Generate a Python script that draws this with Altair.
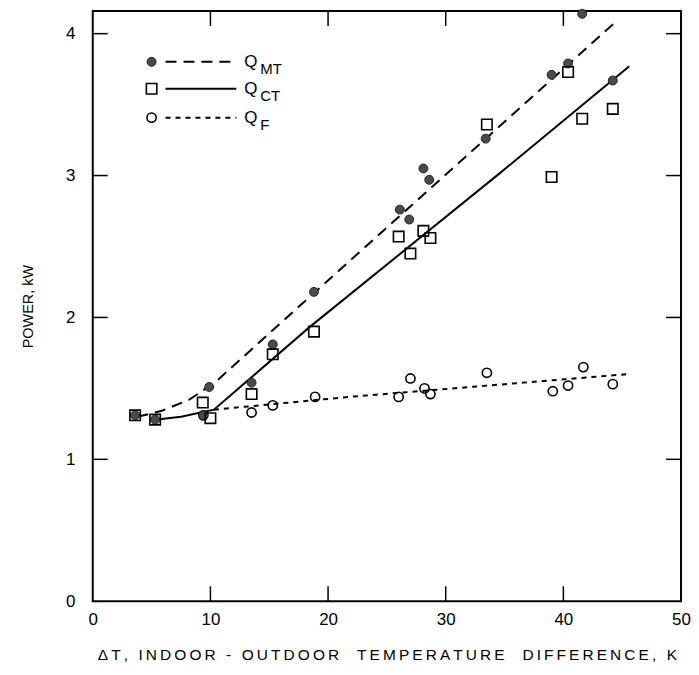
import altair as alt
import pandas as pd

# ---- data ----
mt_x = [3.6, 5.3, 9.4, 9.9, 13.5, 15.3, 18.8, 26.1, 26.9, 28.1, 28.6, 33.4, 39.0, 40.4, 41.6, 44.2]
mt_y = [1.31, 1.28, 1.31, 1.51, 1.54, 1.81, 2.18, 2.76, 2.69, 3.05, 2.97, 3.26, 3.71, 3.79, 4.14, 3.67]

ct_x = [3.6, 5.3, 9.35, 10.0, 13.5, 15.3, 18.8, 26.0, 27.0, 28.1, 28.7, 33.5, 39.0, 40.4, 41.6, 44.2]
ct_y = [1.31, 1.28, 1.40, 1.29, 1.46, 1.74, 1.90, 2.57, 2.45, 2.61, 2.56, 3.36, 2.99, 3.73, 3.40, 3.47]

f_x = [9.4, 13.5, 15.3, 18.9, 26.0, 27.0, 28.2, 28.7, 33.5, 39.1, 40.4, 41.7, 44.2]
f_y = [1.31, 1.33, 1.38, 1.44, 1.44, 1.57, 1.50, 1.46, 1.61, 1.48, 1.52, 1.65, 1.53]

# fitted curves
mt_line_x = [3.8, 5.8, 8.2, 10.5, 17.5, 33.8, 44.4]
mt_line_y = [1.30, 1.34, 1.42, 1.55, 2.075, 3.29, 4.08]
ct_line_x = [5.5, 7.5, 10.3, 18.4, 34.5, 45.6]
ct_line_y = [1.28, 1.30, 1.35, 1.93, 3.01, 3.77]
f_line_x = [10.3, 21.8, 45.4]
f_line_y = [1.35, 1.44, 1.60]

x_ticks = [0, 10, 20, 30, 40, 50]
y_ticks = [0, 1, 2, 3, 4]
inner_x_ticks = [10, 20, 30, 40]
inner_y_ticks = [1, 2, 3, 4]

x_title_raw = "\u0394T, INDOOR - OUTDOOR  TEMPERATURE  DIFFERENCE, K"
y_title = "POWER,  kW"

# letter-spaced x title (thin spaces between the characters)
x_title = "\u2009".join(list(x_title_raw))

FONT = "Liberation Sans"
W, H = 590, 592
TICK = 15

xs = alt.Scale(domain=[0, 50], nice=False, zero=False)
ys = alt.Scale(domain=[0, 4.16], nice=False, zero=False)

x_axis = alt.Axis(values=x_ticks, domain=False, ticks=False, grid=False,
                  labelFont=FONT, labelFontSize=17, labelColor="black",
                  labelPadding=10, labelFlush=False,
                  title=x_title, titleFont=FONT, titleFontSize=15.5,
                  titleFontWeight="normal", titleColor="black", titlePadding=20)
y_axis = alt.Axis(values=y_ticks, domain=False, ticks=False, grid=False,
                  labelFont=FONT, labelFontSize=17, labelColor="black",
                  labelPadding=18, labelFlush=False,
                  title=y_title, titleFont=FONT, titleFontSize=14.5,
                  titleFontWeight="normal", titleColor="black", titlePadding=30)

mt = pd.DataFrame({"x": mt_x, "y": mt_y})
ct = pd.DataFrame({"x": ct_x, "y": ct_y})
qf = pd.DataFrame({"x": f_x, "y": f_y})
mtl = pd.DataFrame({"x": mt_line_x, "y": mt_line_y})
ctl = pd.DataFrame({"x": ct_line_x, "y": ct_line_y})
fl = pd.DataFrame({"x": f_line_x, "y": f_line_y})

X = alt.X("x:Q", scale=xs, axis=x_axis)
Y = alt.Y("y:Q", scale=ys, axis=y_axis)

DASH_MT = [11, 7]
DASH_F = [5, 5]

line_mt = alt.Chart(mtl).mark_line(color="black", strokeWidth=2, strokeDash=DASH_MT).encode(x=X, y=Y)
line_ct = alt.Chart(ctl).mark_line(color="black", strokeWidth=2).encode(x=X, y=Y)
line_f = alt.Chart(fl).mark_line(color="black", strokeWidth=2, strokeDash=DASH_F).encode(x=X, y=Y)

pts_f = alt.Chart(qf).mark_point(shape="circle", filled=False, size=85, color="black",
                                 strokeWidth=1.6, opacity=1).encode(x=X, y=Y)
pts_mt = alt.Chart(mt).mark_point(shape="circle", filled=True, size=80, fill="#4a4a4a",
                                  stroke="#222222", strokeWidth=1, opacity=1).encode(x=X, y=Y)
pts_ct = alt.Chart(ct).mark_point(shape="square", filled=False, size=110, color="black",
                                  strokeWidth=1.6, opacity=1).encode(x=X, y=Y)

# inward ticks on all four sides
xt = pd.DataFrame({"x": inner_x_ticks})
yt = pd.DataFrame({"y": inner_y_ticks})
tick_bottom = alt.Chart(xt).mark_rule(color="black", strokeWidth=1.5).encode(
    x=X, y=alt.value(H), y2=alt.value(H - TICK))
tick_top = alt.Chart(xt).mark_rule(color="black", strokeWidth=1.5).encode(
    x=X, y=alt.value(0), y2=alt.value(TICK))
tick_left = alt.Chart(yt).mark_rule(color="black", strokeWidth=1.5).encode(
    y=Y, x=alt.value(0), x2=alt.value(TICK))
tick_right = alt.Chart(yt).mark_rule(color="black", strokeWidth=1.5).encode(
    y=Y, x=alt.value(W - TICK), x2=alt.value(W))

# legend drawn inside the plot
one = pd.DataFrame({"a": [0]})
rows = [51, 78, 107]
LX, L1, L2, QX, SX = 59, 73, 144, 152, 168
leg = [
    alt.Chart(one).mark_point(shape="circle", filled=True, size=80, fill="#4a4a4a",
                              stroke="#222222", strokeWidth=1, opacity=1).encode(
        x=alt.value(LX), y=alt.value(rows[0])),
    alt.Chart(one).mark_point(shape="square", filled=False, size=110, color="black",
                              strokeWidth=1.6, opacity=1).encode(
        x=alt.value(LX), y=alt.value(rows[1])),
    alt.Chart(one).mark_point(shape="circle", filled=False, size=85, color="black",
                              strokeWidth=1.6, opacity=1).encode(
        x=alt.value(LX), y=alt.value(rows[2])),
    alt.Chart(one).mark_rule(color="black", strokeWidth=2, strokeDash=DASH_MT).encode(
        x=alt.value(L1), x2=alt.value(L2), y=alt.value(rows[0])),
    alt.Chart(one).mark_rule(color="black", strokeWidth=2).encode(
        x=alt.value(L1), x2=alt.value(L2), y=alt.value(rows[1])),
    alt.Chart(one).mark_rule(color="black", strokeWidth=2, strokeDash=DASH_F).encode(
        x=alt.value(L1), x2=alt.value(L2), y=alt.value(rows[2])),
]
subs = ["MT", "CT", "F"]
for r, s in zip(rows, subs):
    leg.append(alt.Chart(one).mark_text(text="Q", font=FONT, fontSize=17, align="left",
                                        baseline="middle", color="black").encode(
        x=alt.value(QX), y=alt.value(r)))
    leg.append(alt.Chart(one).mark_text(text=s, font=FONT, fontSize=15, align="left",
                                        baseline="middle", color="black").encode(
        x=alt.value(SX), y=alt.value(r + 7)))

chart = alt.layer(
    line_mt, line_ct, line_f, pts_f, pts_mt, pts_ct,
    tick_bottom, tick_top, tick_left, tick_right, *leg
).properties(
    width=W, height=H,
    background="white",
    autosize=alt.AutoSizeParams(type="none"),
    padding={"left": 85, "top": 2, "right": 10, "bottom": 63},
).configure_view(stroke="black", strokeWidth=2)

chart.save("out.html", embed_options={"renderer": "svg", "actions": False})
